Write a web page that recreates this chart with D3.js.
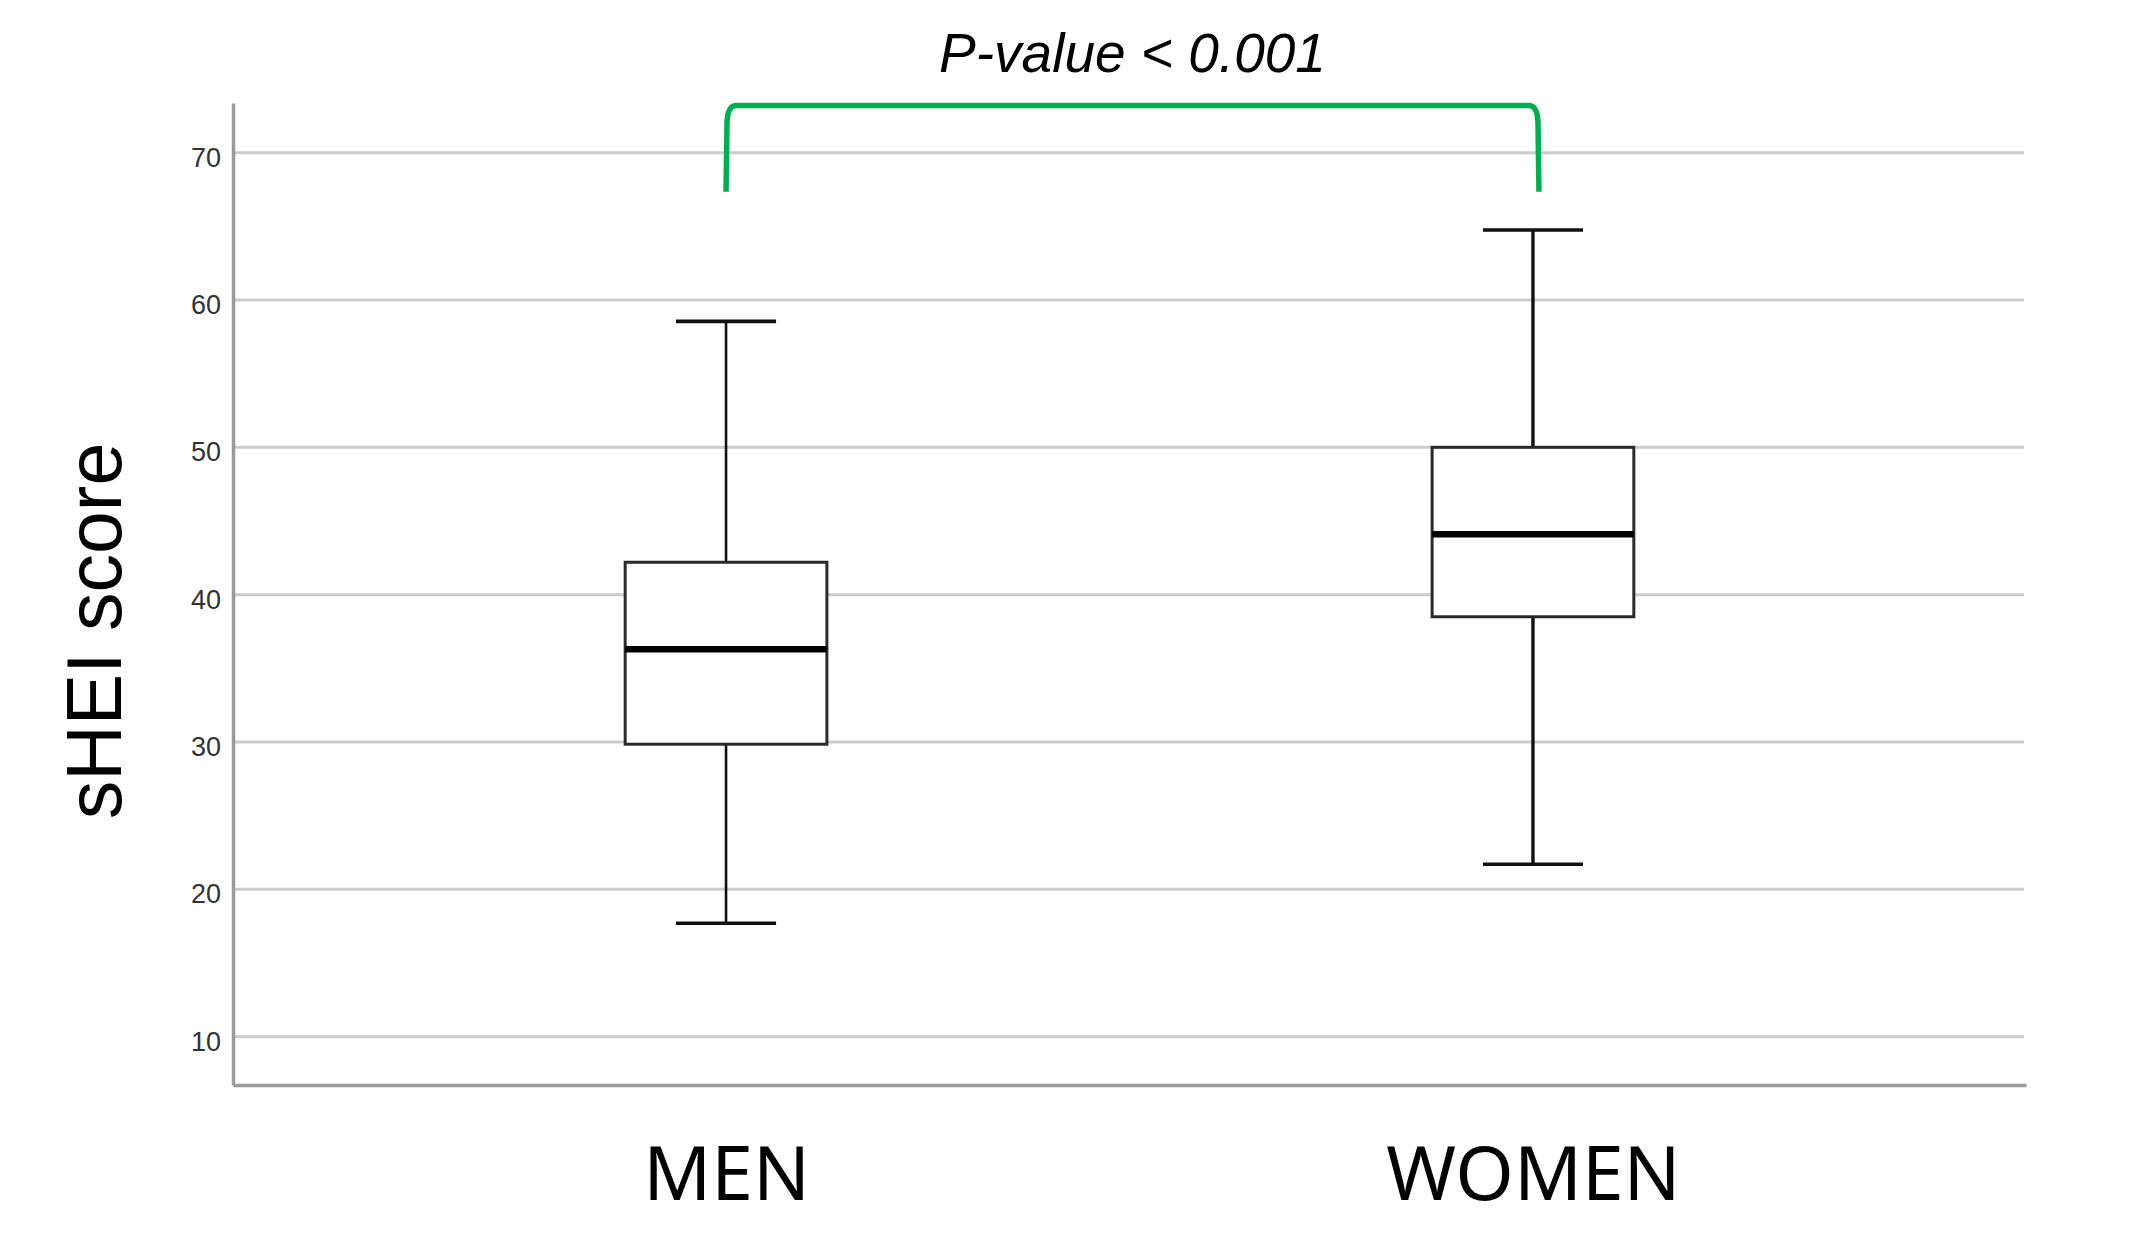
<!DOCTYPE html>
<html>
<head>
<meta charset="utf-8">
<script src="https://cdn.jsdelivr.net/npm/d3@7"></script>
<style>
  body { margin: 0; background: #ffffff; }
  svg { display: block; }
</style>
</head>
<body>
<div id="chart"></div>
<script>
// chart values
var groups = ["MEN", "WOMEN"];
var whiskerLow = [17.7, 21.7];
var q1 = [29.85, 38.5];
var medians = [36.3, 44.1];
var q3 = [42.2, 50.0];
var whiskerHigh = [58.55, 64.75];
var yTicks = [10, 20, 30, 40, 50, 60, 70];
var yLabel = "sHEI score";
var pLabel = "P-value < 0.001";
// bracket legs run from this value up to the top bar
var bracketLow = 67.35;
var bracketHigh = 73.2;

var svgWidth = 2130;
var svgHeight = 1258;

var plot = {
    left: 233,
    right: 2026,
    top: 103,
    bottom: 1085
};

var svg = d3.select("#chart")
    .append("svg")
    .attr("width", svgWidth)
    .attr("height", svgHeight);

// scales
var yScale = d3.scaleLinear()
    .domain([6.72, 73.37])
    .range([plot.bottom, plot.top]);

var xScale = d3.scalePoint()
    .domain(groups)
    .range([plot.left, plot.right])
    .padding(0.611);

var step = xScale.step();
var boxWidth = step * 0.25;
var capWidth = step * 0.124;

// gridlines
svg.append("g")
    .selectAll("line")
    .data(yTicks)
    .enter()
    .append("line")
    .attr("x1", plot.left)
    .attr("x2", plot.right - 2)
    .attr("y1", d => yScale(d))
    .attr("y2", d => yScale(d))
    .attr("stroke", "#cbcbcb")
    .attr("stroke-width", 3);

// y axis
var leftAxis = d3.axisLeft(yScale)
    .tickValues(yTicks)
    .tickSize(0)
    .tickSizeOuter(0)
    .tickPadding(12);

var yAxis = svg.append("g")
    .attr("transform", `translate(${plot.left}, 0)`)
    .call(leftAxis);

yAxis.select(".domain")
    .attr("stroke", "#9a9a9a")
    .attr("stroke-width", 3.5);

yAxis.selectAll("text")
    .attr("font-family", "Liberation Sans, Arial, sans-serif")
    .attr("font-size", "27px")
    .attr("dy", "0.5em")
    .attr("fill", "#333");

// x axis
var bottomAxis = d3.axisBottom(xScale)
    .tickSize(0)
    .tickSizeOuter(0)
    .tickPadding(62);

var xAxis = svg.append("g")
    .attr("transform", `translate(0, ${plot.bottom})`)
    .call(bottomAxis);

xAxis.select(".domain")
    .attr("stroke", "#9a9a9a")
    .attr("stroke-width", 3.5);

xAxis.selectAll("text")
    .attr("font-family", "Noto Sans, sans-serif")
    .attr("font-size", "75px")
    .attr("fill", "#000");

// box plots
var boxes = svg.append("g")
    .selectAll("g")
    .data(groups)
    .enter()
    .append("g");

// whisker stems
boxes.append("line")
    .attr("x1", d => xScale(d))
    .attr("x2", d => xScale(d))
    .attr("y1", (d, i) => yScale(whiskerLow[i]))
    .attr("y2", (d, i) => yScale(whiskerHigh[i]))
    .attr("stroke", "#111")
    .attr("stroke-width", (d, i) => i === 0 ? 2.6 : 3.4);

// whisker caps
[whiskerLow, whiskerHigh].forEach(function(vals) {
    boxes.append("line")
        .attr("x1", d => xScale(d) - capWidth / 2)
        .attr("x2", d => xScale(d) + capWidth / 2)
        .attr("y1", (d, i) => yScale(vals[i]))
        .attr("y2", (d, i) => yScale(vals[i]))
        .attr("stroke", "#111")
        .attr("stroke-width", 3.6);
});

// boxes
boxes.append("rect")
    .attr("x", d => xScale(d) - boxWidth / 2)
    .attr("width", boxWidth)
    .attr("y", (d, i) => yScale(q3[i]))
    .attr("height", (d, i) => yScale(q1[i]) - yScale(q3[i]))
    .attr("fill", "#ffffff")
    .attr("stroke", "#2a2a2a")
    .attr("stroke-width", 3);

// medians
boxes.append("line")
    .attr("x1", d => xScale(d) - boxWidth / 2)
    .attr("x2", d => xScale(d) + boxWidth / 2)
    .attr("y1", (d, i) => yScale(medians[i]))
    .attr("y2", (d, i) => yScale(medians[i]))
    .attr("stroke", "#000")
    .attr("stroke-width", 6.5);

// significance bracket
var bx1 = xScale(groups[0]);
var bx2 = xScale(groups[1]) + 6;
var byTop = yScale(bracketHigh);
var byLow = yScale(bracketLow);

var bracketPath = d3.path();
bracketPath.moveTo(bx1, byLow);
bracketPath.lineTo(bx1 + 1, byTop + 16);
bracketPath.quadraticCurveTo(bx1 + 2, byTop, bx1 + 10, byTop);
bracketPath.lineTo(bx2 - 10, byTop);
bracketPath.quadraticCurveTo(bx2 - 2, byTop, bx2 - 1, byTop + 16);
bracketPath.lineTo(bx2, byLow);

svg.append("path")
    .attr("d", bracketPath.toString())
    .attr("fill", "none")
    .attr("stroke", "#00b050")
    .attr("stroke-width", 5.5);

svg.append("text")
    .attr("x", (bx1 + bx2) / 2)
    .attr("y", 72)
    .attr("text-anchor", "middle")
    .attr("font-family", "Liberation Sans, Arial, sans-serif")
    .attr("font-style", "italic")
    .attr("font-size", "55px")
    .attr("fill", "#000")
    .text(pLabel);

// y axis label
svg.append("text")
    .attr("transform", "translate(121, 631) rotate(-90)")
    .attr("text-anchor", "middle")
    .attr("font-family", "Liberation Sans, Arial, sans-serif")
    .attr("font-size", "77px")
    .attr("fill", "#000")
    .text(yLabel);
</script>
</body>
</html>
